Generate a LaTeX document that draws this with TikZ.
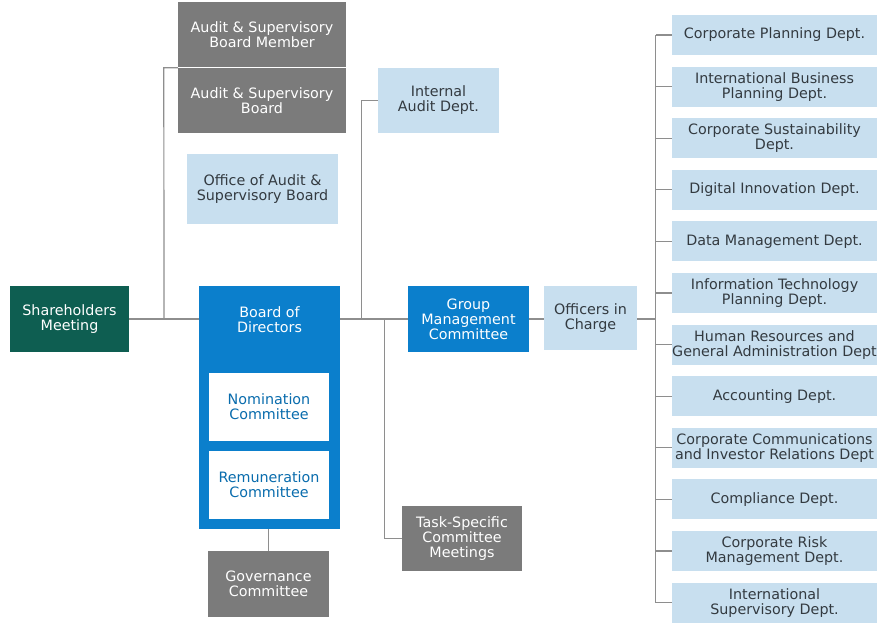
\documentclass[tikz,border=0pt]{standalone}
\usepackage{fontspec}
\setmainfont{DejaVu Sans}
\usepackage{tikz}
\usetikzlibrary{positioning,calc}
\definecolor{govgray}{HTML}{7B7B7B}
\definecolor{sharegreen}{HTML}{0E5E51}
\definecolor{boardblue}{HTML}{0B7FCC}
\definecolor{deptblue}{HTML}{C8DFEF}
\definecolor{deptink}{HTML}{333A40}
\definecolor{linkgray}{HTML}{8E8E8E}
\tikzset{
  link/.style={line width=1.2pt, draw=linkgray},
  every node/.style={anchor=center}
}

\begin{document}
\begin{tikzpicture}[
  x=1pt, y=-1pt,
  font=\fontsize{14.3}{15}\selectfont,
  box/.style={inner sep=0pt, align=center, minimum width=121pt, minimum height=65pt},
  graybox/.style={box, fill=govgray, text=white},
  greenbox/.style={box, fill=sharegreen, text=white},
  bluebox/.style={box, fill=boardblue, text=white},
  lightbox/.style={box, fill=deptblue, text=deptink},
  whitebox/.style={box, fill=white, text=boardblue!85!black, minimum width=120pt, minimum height=68pt},
  dept/.style={lightbox, minimum width=205pt, minimum height=40pt}
]
\useasboundingbox (0,0) rectangle (877,623);

\node[greenbox, minimum width=119pt, minimum height=66pt] (share) at (69.5,319) {Shareholders\\Meeting};
\node[bluebox, minimum width=141pt, minimum height=243pt] (board) at (269.5,407.5) {};
\node[text=white, align=center] (boardtxt) at (269.5,320) {Board of\\Directors};
\node[whitebox] (nomin) at (269,407) {Nomination\\Committee};
\node[whitebox] (remun) at (269,485) {Remuneration\\Committee};
\node[graybox, minimum height=66pt] (govern) at (268.5,584) {Governance\\Committee};

\node[graybox, minimum width=168pt] (member) at (262,34.5) {Audit \& Supervisory\\Board Member};
\node[graybox, minimum width=168pt] (asboard) at (262,100.5) {Audit \& Supervisory\\Board};
\draw[white, line width=1pt] (asboard.north west) -- (asboard.north east);
\node[lightbox, minimum width=151pt, minimum height=70pt] (office) at (262.5,189) {Office of Audit \&\\Supervisory Board};

\node[lightbox] (audit) at (438.5,100.5) {Internal\\Audit Dept.};
\node[bluebox, minimum height=66pt] (gmc) at (468.5,319) {Group\\Management\\Committee};
\node[graybox, minimum width=120pt] (task) at (462,538.5) {Task-Specific\\Committee\\Meetings};
\node[lightbox, minimum width=93pt, minimum height=64pt] (officers) at (590.5,318) {Officers in\\Charge};

\foreach \i/\txt in {
  1/{Corporate Planning Dept.},
  2/{International Business\\Planning Dept.},
  3/{Corporate Sustainability\\Dept.},
  4/{Digital Innovation Dept.},
  5/{Data Management Dept.},
  6/{Information Technology\\Planning Dept.},
  7/{Human Resources and\\General Administration Dept},
  8/{Accounting Dept.},
  9/{Corporate Communications\\and Investor Relations Dept},
  10/{Compliance Dept.},
  11/{Corporate Risk\\Management Dept.},
  12/{International\\Supervisory Dept.}}
  \node[dept] (d\i) at (774.5,{35+51.6*(\i-1)}) {\txt};

\coordinate (audjoin) at (164,319);
\draw[link] (share.east) -- (share.east -| board.west);
\draw[link] (asboard.north west) -- ++(-14,0) -- (audjoin);
\draw[link] (board.south -| govern.north) -- (govern.north);
\draw[link] (board.east |- gmc.west) -- (gmc.west);
\draw[link] (audit.west) -- ++(-16,0) |- (gmc.west);
\draw[link] (task.west) -- ++(-17,0) |- (gmc.west);
\draw[link] (gmc.east) -- (gmc.east -| officers.west);

\coordinate (bustop) at ([xshift=-16pt]d1.west);
\coordinate (busbottom) at ([xshift=-16pt]d12.west);
\draw[link] (bustop) -- (busbottom);
\draw[link] (officers.east |- gmc.east) -- (bustop |- gmc.east);
\foreach \i in {1,...,12}
  \draw[link] (d\i.west) -- ++(-16,0);
\end{tikzpicture}
\end{document}
